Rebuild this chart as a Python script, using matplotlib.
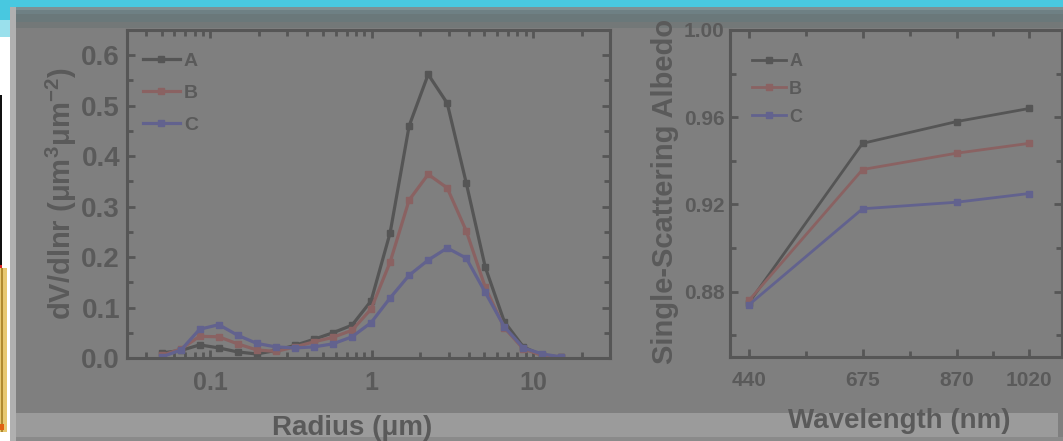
import matplotlib
matplotlib.use("Agg")
import matplotlib.pyplot as plt
from matplotlib.patches import Rectangle
from matplotlib.ticker import LogLocator, MultipleLocator, FixedLocator, NullFormatter, FixedFormatter

# ---------------- data ----------------
radius = [0.050, 0.066, 0.086, 0.113, 0.148, 0.194, 0.255, 0.335, 0.439, 0.576, 0.756,
          0.992, 1.302, 1.708, 2.241, 2.940, 3.857, 5.061, 6.641, 8.713, 11.432, 15.000]
dv_A = [0.010, 0.015, 0.026, 0.020, 0.012, 0.008, 0.015, 0.025, 0.037, 0.050, 0.065,
        0.113, 0.248, 0.460, 0.562, 0.505, 0.347, 0.180, 0.072, 0.022, 0.005, 0.002]
dv_B = [0.005, 0.018, 0.043, 0.042, 0.028, 0.016, 0.013, 0.022, 0.032, 0.041, 0.055,
        0.097, 0.190, 0.313, 0.364, 0.337, 0.252, 0.140, 0.060, 0.018, 0.005, 0.002]
dv_C = [0.002, 0.016, 0.057, 0.066, 0.045, 0.029, 0.022, 0.020, 0.022, 0.028, 0.042,
        0.070, 0.119, 0.164, 0.194, 0.218, 0.198, 0.130, 0.062, 0.020, 0.008, 0.002]

wavelength = [440, 675, 870, 1020]
ssa_A = [0.875, 0.948, 0.958, 0.964]
ssa_B = [0.876, 0.936, 0.9435, 0.948]
ssa_C = [0.874, 0.918, 0.921, 0.925]

series_labels = ["A", "B", "C"]
series_colors = ["#555555", "#8a6262", "#62628e"]

# ---------------- style ----------------
plt.rcParams['font.family'] = ['Liberation Sans', 'DejaVu Sans']
plt.rcParams['font.weight'] = 'bold'
plt.rcParams['mathtext.fontset'] = 'custom'
plt.rcParams['mathtext.rm'] = 'Liberation Sans:bold'
plt.rcParams['mathtext.bf'] = 'Liberation Sans:bold'
plt.rcParams['mathtext.it'] = 'Liberation Sans:bold'
TXT = "#5a5a5a"
SPN = "#565656"
BG = "#7f7f7f"

W, H = 1063, 441
fig = plt.figure(figsize=(W / 100, H / 100), dpi=100)
fig.patch.set_facecolor(BG)

def frect(x0, y0, x1, y1, color):
    fig.patches.append(Rectangle((x0 / W, 1 - y1 / H), (x1 - x0) / W, (y1 - y0) / H,
                                 transform=fig.transFigure, facecolor=color,
                                 edgecolor='none', zorder=-5))

# background decorations (slide screenshot look)
frect(0, 0, W, 7, "#48c8e0")
frect(0, 7, 10, 20, "#48c8e0")
frect(0, 20, 10, 37, "#9ae0ec")
frect(0, 37, 10, H, "#ffffff")
frect(0, 95, 2, 265, "#111111")
frect(0, 265, 2, 268, "#dd2222")
frect(0, 268, 7, 432, "#e8c870")
frect(1, 268, 3, 432, "#b08a30")
frect(0, 424, 4, 430, "#e06010")
frect(10, 7, 16, H, "#b0b0b0")
frect(16, 7, W, 10, "#7d9094")
frect(16, 10, W, 14, "#6e8084")
frect(16, 14, W, 22, "#6a787a")
frect(16, 22, W, 28, "#737878")
frect(16, 413, 1058, 437, "#9b9b9b")
frect(16, 437, W, H, "#8a8a8a")

# ---------------- left axes ----------------
ax1 = fig.add_axes([127 / W, 1 - 358 / H, (610 - 127) / W, (358 - 30) / H])
ax1.set_facecolor('none')
for lab, y, c in zip(series_labels, [dv_A, dv_B, dv_C], series_colors):
    ax1.plot(radius, y, color=c, lw=2.3, marker='s', ms=5, label=lab)
ax1.set_xscale('log')
ax1.set_xlim(0.0305, 30)
ax1.set_ylim(0, 0.65)
ax1.xaxis.set_major_locator(FixedLocator([0.1, 1, 10]))
ax1.xaxis.set_major_formatter(FixedFormatter(["0.1", "1", "10"]))
ax1.xaxis.set_minor_locator(LogLocator(base=10, subs=range(2, 10)))
ax1.xaxis.set_minor_formatter(NullFormatter())
ax1.yaxis.set_minor_locator(MultipleLocator(0.05))
ax1.set_yticks([0, 0.1, 0.2, 0.3, 0.4, 0.5, 0.6])
ax1.set_yticklabels(["0.0", "0.1", "0.2", "0.3", "0.4", "0.5", "0.6"])
ax1.tick_params(axis='y', which='major', labelsize=20, pad=5)
ax1.tick_params(axis='x', which='major', labelsize=18, pad=9)
ax1.set_xlabel("Radius (\u03bcm)", fontsize=20, color=TXT, fontweight='bold')
ax1.xaxis.set_label_coords(0.466, -0.175)
ax1.set_ylabel("dV/dlnr (\u03bcm$^{3}$\u03bcm$^{-2}$)", fontsize=21,
               color=TXT, fontweight='bold')
ax1.yaxis.set_label_coords(-0.100, 0.5)
ax1.legend(loc='upper left', frameon=False, fontsize=14, handlelength=1.9,
           handletextpad=0.2, labelspacing=0.75, borderaxespad=0.0,
           bbox_to_anchor=(0.017, 0.956), labelcolor=TXT)

# ---------------- right axes ----------------
ax2 = fig.add_axes([730 / W, 1 - 357 / H, (1062 - 730) / W, (357 - 30) / H])
ax2.set_facecolor('none')
for lab, y, c in zip(series_labels, [ssa_A, ssa_B, ssa_C], series_colors):
    ax2.plot(wavelength, y, color=c, lw=2.0, marker='s', ms=4.5, label=lab)
ax2.set_xlim(400.5, 1088)
ax2.set_ylim(0.85, 1.00)
ax2.xaxis.set_major_locator(FixedLocator(wavelength))
ax2.xaxis.set_minor_locator(FixedLocator([557.5, 772.5, 945]))
ax2.set_xticklabels([str(w) for w in wavelength])
ax2.yaxis.set_major_locator(FixedLocator([0.88, 0.92, 0.96, 1.00]))
ax2.yaxis.set_minor_locator(FixedLocator([0.86, 0.90, 0.94, 0.98]))
ax2.set_yticklabels(["0.88", "0.92", "0.96", "1.00"])
ax2.tick_params(axis='both', which='major', labelsize=15)
ax2.tick_params(axis='y', which='major', pad=4)
ax2.tick_params(axis='x', which='major', pad=10)
ax2.set_xlabel("Wavelength (nm)", fontsize=20, color=TXT, fontweight='bold')
ax2.xaxis.set_label_coords(0.509, -0.156)
ax2.set_ylabel("Single-Scattering Albedo", fontsize=21, color=TXT, fontweight='bold')
ax2.yaxis.set_label_coords(-0.153, 0.505)
ax2.legend(loc='upper left', frameon=False, fontsize=13, handlelength=1.85,
           handletextpad=0.2, labelspacing=0.6, borderaxespad=0.0,
           bbox_to_anchor=(0.045, 0.952), labelcolor=TXT)

for ax in (ax1, ax2):
    for s in ax.spines.values():
        s.set_color(SPN)
        s.set_linewidth(2.2)
    ax.tick_params(which='both', direction='in', top=True, right=True,
                   colors=SPN, labelcolor=TXT, width=2)
    ax.tick_params(which='major', length=6)
    ax.tick_params(which='minor', length=4)
    for t in ax.get_xticklabels() + ax.get_yticklabels():
        t.set_fontweight('bold')

fig.savefig("out.png", dpi=100, facecolor=fig.get_facecolor())
